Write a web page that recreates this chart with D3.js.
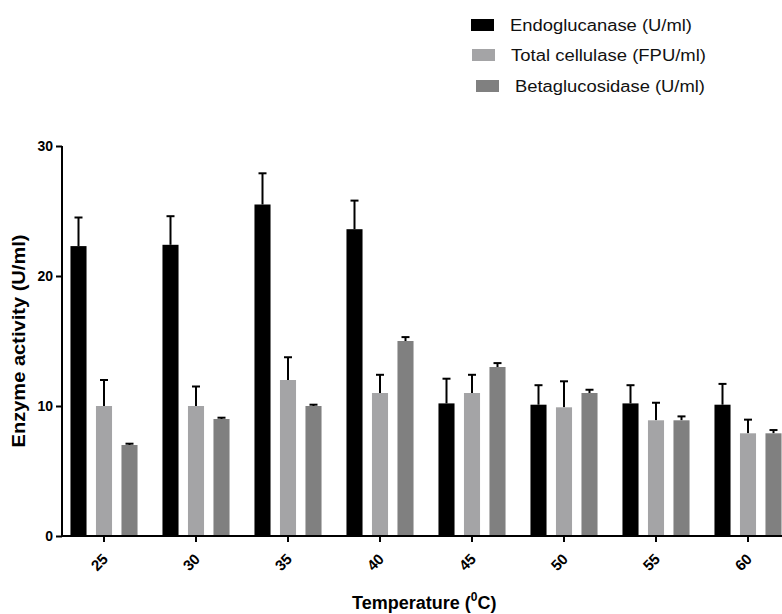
<!DOCTYPE html>
<html>
<head>
<meta charset="utf-8">
<script src="https://cdn.jsdelivr.net/npm/d3@7"></script>
<style>
  body { margin: 0; background: #fff; }
  svg { display: block; font-family: "Liberation Sans", Arial, sans-serif; }
</style>
</head>
<body>
<svg id="chart"></svg>
<script>
var width = 782;
var height = 614;

var temps = ['25', '30', '35', '40', '45', '50', '55', '60'];
var series = ['Endoglucanase (U/ml)', 'Total cellulase (FPU/ml)', 'Betaglucosidase (U/ml)'];
var colors = ['#000000', '#a4a4a6', '#808080'];

var endoMean = [22.3, 22.4, 25.5, 23.6, 10.2, 10.1, 10.2, 10.1];
var endoErr = [2.2, 2.2, 2.4, 2.2, 1.9, 1.5, 1.4, 1.6];
var totalMean = [10, 10, 12, 11, 11, 9.9, 8.9, 7.9];
var totalErr = [2.0, 1.5, 1.75, 1.4, 1.4, 2.0, 1.35, 1.05];
var betaMean = [7, 9, 10, 15, 13, 11, 8.9, 7.9];
var betaErr = [0.1, 0.1, 0.1, 0.3, 0.3, 0.25, 0.3, 0.25];

var yTicks = [0, 10, 20, 30];

var means = [endoMean, totalMean, betaMean];
var errs = [endoErr, totalErr, betaErr];

var svg = d3.select('#chart')
    .attr('width', width)
    .attr('height', height);

var x0 = d3.scaleBand()
    .domain(temps)
    .range([58, 794])
    .padding(0);

var x1 = d3.scaleBand()
    .domain(d3.range(3))
    .range([7.75, 84.25])
    .paddingInner(0.37)
    .paddingOuter(0.185);

var y = d3.scaleLinear()
    .domain([0, 30])
    .range([536, 146]);

// bars + error bars (upper only)
var groups = svg.selectAll('g.group')
    .data(temps)
    .enter().append('g')
    .attr('class', 'group')
    .attr('transform', function (d) { return 'translate(' + x0(d) + ',0)'; });

groups.each(function (t, i) {
    var g = d3.select(this);
    d3.range(3).forEach(function (s) {
        var m = means[s][i];
        var top = m + errs[s][i];
        var cx = x1(s) + x1.bandwidth() / 2;
        g.append('line')
            .attr('x1', cx).attr('x2', cx)
            .attr('y1', y(m)).attr('y2', y(top))
            .attr('stroke', '#000').attr('stroke-width', 2);
        g.append('line')
            .attr('x1', cx - 4).attr('x2', cx + 4)
            .attr('y1', y(top)).attr('y2', y(top))
            .attr('stroke', '#000').attr('stroke-width', 2);
        g.append('rect')
            .attr('x', x1(s))
            .attr('width', x1.bandwidth())
            .attr('y', y(m))
            .attr('height', y(0) - y(m))
            .attr('fill', colors[s]);
    });
});

// y axis
var yAxis = svg.append('g')
    .attr('transform', 'translate(62,0)')
    .call(d3.axisLeft(y).tickValues(yTicks).tickSize(6).tickPadding(3));
yAxis.select('.domain').attr('stroke-width', 2).attr('d', 'M0,' + y(30) + 'V' + y(0));
yAxis.selectAll('.tick line').attr('stroke-width', 2);
yAxis.selectAll('.tick text')
    .attr('font-size', 14)
    .attr('font-weight', 'bold')
    .attr('fill', '#000')
    .attr('font-family', '"Liberation Sans", Arial, sans-serif');

// x axis
var xAxis = svg.append('g')
    .attr('transform', 'translate(0,' + y(0) + ')')
    .call(d3.axisBottom(x0).tickSize(6).tickSizeOuter(0));
xAxis.select('.domain').attr('stroke-width', 2).attr('d', 'M61,0H782');
xAxis.selectAll('.tick line').attr('stroke-width', 2);
xAxis.selectAll('.tick text')
    .attr('font-size', 15)
    .attr('font-weight', 'bold')
    .attr('fill', '#000')
    .attr('font-family', '"Liberation Sans", Arial, sans-serif')
    .attr('text-anchor', 'end')
    .attr('x', 0)
    .attr('y', 0)
    .attr('dy', null)
    .attr('transform', 'translate(5,24) rotate(-45)');

// axis titles
svg.append('text')
    .attr('transform', 'translate(25,341) rotate(-90)')
    .attr('text-anchor', 'middle')
    .attr('font-size', 18)
    .attr('font-weight', 'bold')
    .attr('textLength', 213)
    .attr('lengthAdjust', 'spacingAndGlyphs')
    .text('Enzyme activity (U/ml)');

var xt = svg.append('text')
    .attr('x', 352)
    .attr('y', 609)
    .attr('font-size', 18)
    .attr('font-weight', 'bold');
xt.append('tspan').text('Temperature (');
xt.append('tspan').attr('font-size', 12).attr('dy', -8).text('0');
xt.append('tspan').attr('dy', 8).text('C)');

// legend
var legendY = [25, 55, 86];
var legendX = [471, 472, 476];
var legendW = [182, 195, 190];
var legend = svg.selectAll('g.legend')
    .data(series)
    .enter().append('g')
    .attr('class', 'legend')
    .attr('transform', function (d, i) { return 'translate(' + legendX[i] + ',' + legendY[i] + ')'; });
legend.append('rect')
    .attr('x', 0).attr('y', -6)
    .attr('width', 23).attr('height', 12)
    .attr('fill', function (d, i) { return colors[i]; });
legend.append('text')
    .attr('x', 39)
    .attr('y', 6)
    .attr('font-size', 16)
    .attr('fill', '#111')
    .attr('textLength', function (d, i) { return legendW[i]; })
    .attr('lengthAdjust', 'spacingAndGlyphs')
    .text(function (d) { return d; });
</script>
</body>
</html>
